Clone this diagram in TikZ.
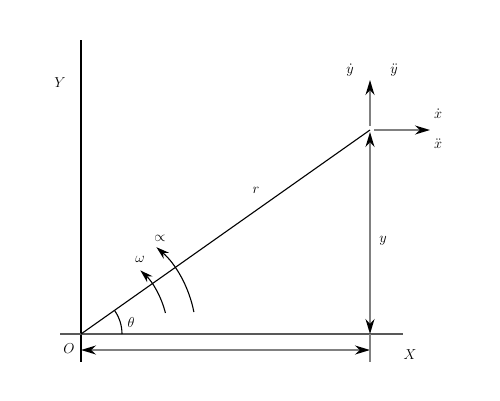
\documentclass[tikz,border=0pt]{standalone}
\usetikzlibrary{arrows.meta}
\begin{document}
\begin{tikzpicture}[x=1pt,y=-1pt,
  axis/.style={line width=1.2pt,black},
  dim/.style={line width=1.6pt,black!50},
  hd/.style={Stealth[length=15pt,width=9pt,black]},
  lbl/.style={font=\fontsize{15}{17}\selectfont,inner sep=1pt}]
\useasboundingbox (0,0) rectangle (500,400);
\coordinate (O) at (81,334);
\coordinate (P) at (370,130);
\coordinate (Ytop) at (81,40);
\coordinate (Ybot) at (81,362);
\coordinate (Xl) at (60,334);
\coordinate (Xr) at (403,334);
\coordinate (Pup) at (370,80);
\coordinate (Pright) at (430,130);
\coordinate (Pbase) at (370,334);
\coordinate (D1) at (81,350);
\coordinate (D2) at (370,350);
\coordinate (T1) at (370,334);
\coordinate (T2) at (370,362);
% axes
\draw[axis] (Ytop) -- (Ybot);
\draw[axis,black!65] (Xl) -- (Xr);
\draw[line width=1.1pt] (O) -- (P);
% gray arrows
\draw[dim,-{Stealth[length=15pt,width=9pt,black]}] (370,126) -- (Pup);
\draw[dim,-{Stealth[length=15pt,width=9pt,black]}] (374,130) -- (Pright);
\draw[dim,{Stealth[length=15pt,width=9pt,black]}-{Stealth[length=15pt,width=9pt,black]}] (370,132) -- (Pbase);
\draw[dim,{Stealth[length=15pt,width=9pt,black]}-{Stealth[length=15pt,width=9pt,black]}] (D1) -- (D2);
\draw[dim] (T1) -- (T2);
% angle arcs
\draw[line width=1.1pt] (122,334) arc[start angle=0,end angle=-35,radius=41];
\draw[line width=1.1pt,-{Stealth[length=13pt,width=8pt]}] (O) ++(-14:87) arc[start angle=-14,end angle=-47,radius=87];
\draw[line width=1.1pt,-{Stealth[length=13pt,width=8pt]}] (O) ++(-11:115) arc[start angle=-11,end angle=-49,radius=115];
% labels
\node[lbl] (lY) at (60,83) {$Y$};
\node[lbl] (lO) at (69,349) {$O$};
\node[lbl] (lX) at (410,355) {$X$};
\node[lbl] (lr) at (256,190) {$r$};
\node[lbl] (ly) at (383,241) {$y$};
\node[lbl] (lth) at (131,322) {$\theta$};
\node[lbl] (lw) at (140,259) {$\omega$};
\node[lbl] (la) at (160,238) {$\propto$};
\node[lbl] (lyd) at (350,70) {$\dot{y}$};
\node[lbl] (lydd) at (394,70) {$\ddot{y}$};
\node[lbl] (lxd) at (438,114) {$\dot{x}$};
\node[lbl] (lxdd) at (438,144) {$\ddot{x}$};
\end{tikzpicture}
\end{document}
